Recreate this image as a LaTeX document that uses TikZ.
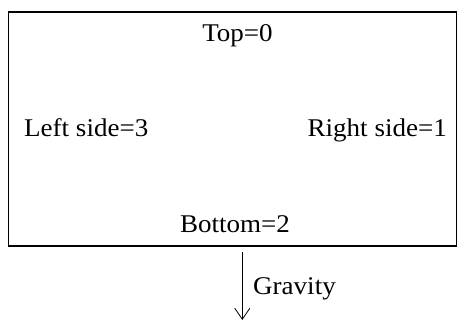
\documentclass[tikz,border=0pt]{standalone}
\usepackage{fontspec}
\setmainfont[FakeStretch=1.06]{Liberation Serif}
\usetikzlibrary{arrows.meta}
\begin{document}
\begin{tikzpicture}[x=1pt,y=1pt,
  lbl/.style={anchor=base,inner sep=0pt,font=\fontsize{25.5}{30}\selectfont},
  frame/.style={draw=black,line width=1.3pt},
  grav/.style={draw=black,line width=0.8pt,-{Straight Barb[length=11pt,width=15pt,line width=0.8pt]}}]
\useasboundingbox (0,0) rectangle (457,320);
\coordinate (bl) at (8.3,74);
\coordinate (tr) at (456.3,308);
\draw[frame] (bl) rectangle (tr);
\node[lbl] (top) at (237.5,278.5) {Top=0};
\node[lbl,anchor=base west] (left) at (24,183) {Left side=3};
\node[lbl,anchor=base east] (right) at (447,183) {Right side=1};
\node[lbl] (bottom) at (235,87) {Bottom=2};
\coordinate (gs) at (242.3,68);
\coordinate (ge) at (242.3,0);
\draw[grav] (gs) -- (ge);
\node[lbl,anchor=base west] (gravity) at (253,25) {Gravity};
\end{tikzpicture}
\end{document}
